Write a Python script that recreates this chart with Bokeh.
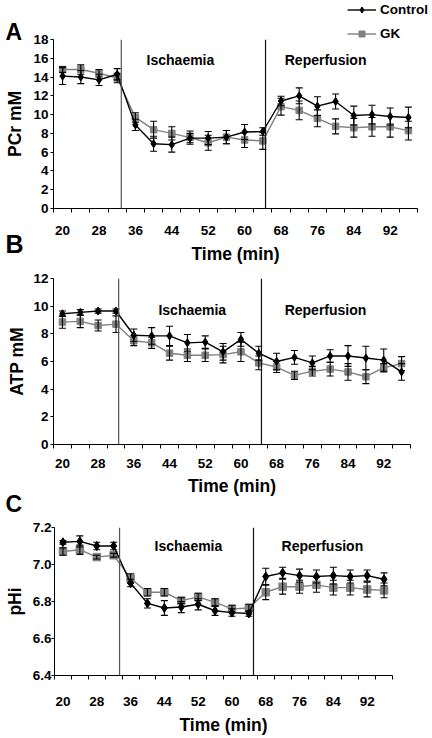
from bokeh.plotting import figure
from bokeh.models import (FixedTicker, NumeralTickFormatter, Span, Label, Whisker, TeeHead,
                          ColumnDataSource, Legend, LegendItem, Range1d)
from bokeh.layouts import column
from bokeh.embed import file_html
from bokeh.resources import INLINE

FONT = "Liberation Sans"

# ---------------- data ----------------
times = [20, 24, 28, 32, 36, 40, 44, 48, 52, 56, 60, 64, 68, 72, 76, 80, 84, 88, 92, 96]
x_tick_values = [20, 28, 36, 44, 52, 60, 68, 76, 84, 92]
x_tick_labels = ["20", "28", "36", "44", "52", "60", "68", "76", "84", "92"]
x_bounds = [18, 22, 26, 30, 34, 38, 42, 46, 50, 54, 58, 62, 66, 70, 74, 78, 82, 86, 90, 94, 98]

pcr_control = [14.1, 14.0, 13.7, 14.3, 8.9, 6.9, 6.8, 7.5, 7.5, 7.6, 8.15, 8.2,
               11.45, 12.0, 10.9, 11.4, 9.9, 10.0, 9.8, 9.7]
pcr_control_err = [0.9, 0.7, 0.6, 0.6, 0.6, 0.8, 0.8, 0.5, 0.7, 0.7, 0.8, 0.4,
                   0.5, 0.85, 1.0, 0.8, 1.0, 1.0, 0.9, 1.1]
pcr_gk = [14.8, 14.8, 14.4, 13.9, 9.7, 8.4, 8.0, 7.55, 7.0, 7.6, 7.3, 7.2,
          10.85, 10.45, 9.6, 8.75, 8.6, 8.7, 8.7, 8.3]
pcr_gk_err = [0.3, 0.5, 0.4, 0.5, 0.5, 0.9, 0.7, 0.7, 0.8, 0.7, 0.8, 0.9,
              0.9, 1.0, 0.9, 0.8, 1.0, 1.0, 1.1, 1.0]

atp_control = [9.45, 9.55, 9.65, 9.65, 7.9, 7.85, 7.85, 7.35, 7.4, 6.7, 7.6, 6.6,
               6.0, 6.3, 5.9, 6.4, 6.4, 6.25, 6.1, 5.25]
atp_control_err = [0.2, 0.2, 0.15, 0.15, 0.45, 0.6, 0.7, 0.6, 0.45, 0.6, 0.5, 0.5,
                   0.6, 0.5, 0.5, 0.45, 0.75, 0.85, 0.8, 0.6]
atp_gk = [8.85, 8.9, 8.6, 8.7, 7.5, 7.35, 6.6, 6.45, 6.45, 6.5, 6.7, 5.9,
          5.6, 5.0, 5.3, 5.45, 5.25, 4.9, 5.55, 5.85]
atp_gk_err = [0.45, 0.45, 0.4, 0.6, 0.35, 0.4, 0.5, 0.45, 0.45, 0.6, 0.7, 0.5,
              0.4, 0.3, 0.35, 0.5, 0.6, 0.5, 0.3, 0.5]

ph_control = [7.12, 7.125, 7.10, 7.10, 6.90, 6.79, 6.765, 6.77, 6.785, 6.75, 6.74, 6.735,
              6.935, 6.955, 6.94, 6.935, 6.94, 6.935, 6.94, 6.92]
ph_control_err = [0.01, 0.03, 0.02, 0.02, 0.02, 0.025, 0.04, 0.03, 0.03, 0.025, 0.02, 0.015,
                  0.045, 0.03, 0.035, 0.035, 0.045, 0.035, 0.03, 0.035]
ph_gk = [7.07, 7.08, 7.04, 7.05, 6.925, 6.85, 6.85, 6.805, 6.825, 6.795, 6.76, 6.765,
         6.85, 6.88, 6.88, 6.89, 6.875, 6.875, 6.865, 6.86]
ph_gk_err = [0.02, 0.025, 0.01, 0.01, 0.025, 0.02, 0.02, 0.015, 0.02, 0.02, 0.02, 0.02,
             0.04, 0.04, 0.035, 0.04, 0.04, 0.04, 0.04, 0.04]

pcr_ticks = [0, 2, 4, 6, 8, 10, 12, 14, 16, 18]
atp_ticks = [0, 2, 4, 6, 8, 10, 12]
ph_ticks = [6.4, 6.6, 6.8, 7.0, 7.2]

series_names = ["Control", "GK"]
phase_names = ["Ischaemia", "Reperfusion"]
panel_letters = ["A", "B", "C"]

CTRL_COLOR = "black"
GK_COLOR = "#808080"
W = 432
H_TOTAL = 737


def make_panel(height, b_top, b_bottom, b_left, b_right, ylim, yticks, yfmt, ytitle,
               ctrl, ctrl_err, gk, gk_err, events, phase_x, phase_y,
               xlab_so, xtitle_so, ytick_out, ylab_so, ytitle_so, d_size, s_size):
    p = figure(width=W, height=height, output_backend="svg", toolbar_location=None,
               x_range=Range1d(18, 98), y_range=Range1d(*ylim),
               min_border_left=b_left, min_border_right=b_right,
               min_border_top=b_top, min_border_bottom=b_bottom)
    p.outline_line_color = None
    p.xgrid.visible = False
    p.ygrid.visible = False
    p.background_fill_color = "white"
    p.border_fill_color = "white"

    xa = p.xaxis[0]
    xa.ticker = FixedTicker(ticks=x_tick_values, minor_ticks=x_bounds)
    xa.major_label_overrides = {v: l for v, l in zip(x_tick_values, x_tick_labels)}
    xa.major_tick_out = 0
    xa.major_tick_in = 0
    xa.minor_tick_out = 4
    xa.minor_tick_in = 0
    xa.minor_tick_line_color = "black"
    xa.axis_line_color = "black"
    xa.major_label_standoff = xlab_so
    xa.axis_label = "Time (min)"
    xa.axis_label_standoff = xtitle_so
    xa.axis_label_text_font = FONT
    xa.axis_label_text_font_size = "17.5px"
    xa.axis_label_text_font_style = "bold"
    xa.axis_label_text_color = "black"
    xa.major_label_text_font = FONT
    xa.major_label_text_font_size = "13.5px"
    xa.major_label_text_font_style = "bold"
    xa.major_label_text_color = "black"

    ya = p.yaxis[0]
    ya.ticker = FixedTicker(ticks=yticks, minor_ticks=[])
    if yfmt:
        ya.formatter = NumeralTickFormatter(format=yfmt)
    ya.major_tick_out = ytick_out
    ya.major_tick_in = 0
    ya.minor_tick_out = 0
    ya.minor_tick_in = 0
    ya.axis_line_color = "black"
    ya.major_tick_line_color = "black"
    ya.major_label_standoff = ylab_so
    ya.axis_label = ytitle
    ya.axis_label_standoff = ytitle_so
    ya.axis_label_text_font = FONT
    ya.axis_label_text_font_size = "17.5px"
    ya.axis_label_text_font_style = "bold"
    ya.axis_label_text_color = "black"
    ya.major_label_text_font = FONT
    ya.major_label_text_font_size = "13.5px"
    ya.major_label_text_font_style = "bold"
    ya.major_label_text_color = "black"

    # phase lines
    p.add_layout(Span(location=events[0], dimension="height", line_color="#555555", line_width=1.2))
    p.add_layout(Span(location=events[1], dimension="height", line_color="#111111", line_width=1.2))

    for name, px in zip(phase_names, phase_x):
        p.add_layout(Label(x=px, y=phase_y, text=name, text_align="center",
                           text_baseline="middle", text_font=FONT, text_font_size="14px",
                           text_font_style="bold", text_color="black"))

    for vals, errs, color, marker, size in [
        (gk, gk_err, GK_COLOR, "square", s_size),
        (ctrl, ctrl_err, CTRL_COLOR, "diamond", d_size),
    ]:
        src = ColumnDataSource(dict(
            x=times, y=vals,
            lo=[v - e for v, e in zip(vals, errs)],
            hi=[v + e for v, e in zip(vals, errs)],
        ))
        w = Whisker(source=src, base="x", lower="lo", upper="hi",
                    line_color="black", line_width=1.1,
                    upper_head=TeeHead(size=7, line_color="black", line_width=1.1),
                    lower_head=TeeHead(size=7, line_color="black", line_width=1.1))
        w.level = "glyph"
        p.add_layout(w)
        p.line("x", "y", source=src, line_color=color, line_width=1.4)
        p.scatter("x", "y", source=src, marker=marker, size=size,
                  fill_color=color, line_color=color)
    return p


# Panel A: canvas rows 0..266, frame 39..212, x 53..417
pA = make_panel(266, 39, 54, 53, 15, (0, 18), pcr_ticks, None, "PCr mM",
                pcr_control, pcr_control_err, pcr_gk, pcr_gk_err,
                (32.9, 64.6), (45.9, 77.8), 15.8,
                13, 6, 3, 2, 5, 8, 6.5)
# Panel B: canvas rows 266..498, frame 278..448, x 53..410
pB = make_panel(232, 12, 50, 53, 22, (0, 12), atp_ticks, None, "ATP mM",
                atp_control, atp_control_err, atp_gk, atp_gk_err,
                (32.6, 64.6), (49.1, 78.95), 9.74,
                10, 5, 3, 2, 3, 8, 6.5)
# Panel C: canvas rows 498..737, frame 527..681, x 54..392
pC = make_panel(239, 29, 56, 54, 40, (6.4, 7.2), ph_ticks, "0.0", "pHi",
                ph_control, ph_control_err, ph_gk, ph_gk_err,
                (33.4, 65.1), (49.7, 81.4), 7.10,
                17, 6, 3, 0, 5, 9, 7.5)

# Transparent overlay (page pixel coordinates) for the legend and panel letters
ov = figure(width=W, height=H_TOTAL, output_backend="svg", toolbar_location=None,
            x_axis_type=None, y_axis_type=None,
            x_range=Range1d(0, W), y_range=Range1d(H_TOTAL, 0),
            min_border_left=0, min_border_right=0, min_border_top=0, min_border_bottom=0)
ov.grid.visible = False
ov.outline_line_color = None
ov.background_fill_alpha = 0
ov.border_fill_alpha = 0
# series drawn through a range that puts them outside this overlay's frame;
# they only provide the legend's glyph styles
ov.extra_x_ranges = {"offframe": Range1d(1000, 1000 + W)}

lc = ov.line(times, pcr_control, x_range_name="offframe", line_color=CTRL_COLOR, line_width=1.4)
sc = ov.scatter(times, pcr_control, x_range_name="offframe", marker="diamond", size=9,
                fill_color=CTRL_COLOR, line_color=CTRL_COLOR)
lg = ov.line(times, pcr_gk, x_range_name="offframe", line_color=GK_COLOR, line_width=1.4)
sg = ov.scatter(times, pcr_gk, x_range_name="offframe", marker="square", size=6.5,
                fill_color=GK_COLOR, line_color=GK_COLOR)

legend = Legend(items=[LegendItem(label=series_names[0], renderers=[lc, sc]),
                       LegendItem(label=series_names[1], renderers=[lg, sg])],
                location=(347, H_TOTAL - 41), orientation="vertical",
                background_fill_alpha=0, border_line_color=None,
                padding=0, margin=0, spacing=9,
                glyph_width=29, glyph_height=15, label_height=15, label_standoff=4,
                label_text_font=FONT, label_text_font_size="13.5px",
                label_text_font_style="bold", label_text_color="black")
ov.add_layout(legend)

for letter, ly, fs in zip(panel_letters, [31.5, 243, 503.5], ["23px", "25px", "23px"]):
    ov.add_layout(Label(x=5, y=ly, text=letter, text_font=FONT, text_font_size=fs,
                        text_font_style="bold", text_color="black",
                        text_baseline="middle", text_align="left"))

# each plot in its own wrapper so frames are not aligned across panels
layout = column(column(pA), column(pB), column(pC),
                column(ov, margin=(-H_TOTAL, 0, 0, 0)), spacing=0)
open("out.html", "w").write(file_html(layout, INLINE))
